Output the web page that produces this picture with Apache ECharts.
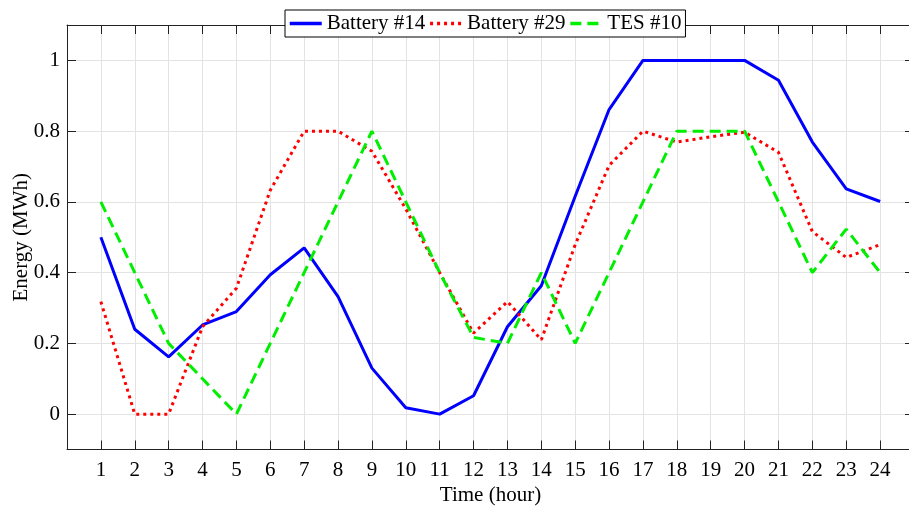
<!DOCTYPE html>
<html>
<head>
<meta charset="utf-8">
<script src="https://cdn.jsdelivr.net/npm/echarts@6/dist/echarts.min.js"></script>
<style>
  html, body { margin: 0; padding: 0; background: #fff; }
  #main { width: 909px; height: 508px; }
</style>
</head>
<body>
<div id="main"></div>
<script>
// hours on the x axis
var hours = [1, 2, 3, 4, 5, 6, 7, 8, 9, 10, 11, 12, 13, 14, 15, 16, 17, 18, 19, 20, 21, 22, 23, 24];
// stored energy (MWh)
var battery14 = [0.50, 0.24, 0.162, 0.252, 0.29, 0.394, 0.47, 0.332, 0.13, 0.018, 0, 0.052,
                 0.247, 0.363, 0.616, 0.861, 1, 1, 1, 1, 0.944, 0.769, 0.637, 0.601];
var battery29 = [0.318, 0, 0, 0.247, 0.356, 0.633, 0.8, 0.8, 0.743, 0.58, 0.40, 0.229,
                 0.318, 0.21, 0.479, 0.703, 0.8, 0.769, 0.784, 0.797, 0.74, 0.516, 0.443, 0.479];
var tes10 = [0.6, 0.4, 0.2, 0.1, 0, 0.2, 0.4, 0.6, 0.8, 0.6, 0.4, 0.217,
             0.2, 0.4, 0.2, 0.4, 0.6, 0.8, 0.8, 0.8, 0.6, 0.4, 0.523, 0.4];
var yTicks = [0, 0.2, 0.4, 0.6, 0.8, 1];

var seriesNames = ['Battery #14', 'Battery #29', 'TES #10'];

function pairs(vals) {
    return hours.map(function (h, i) { return [h, vals[i]]; });
}

var font = 'Liberation Serif';
var axisCol = '#222';
var gridCol = '#e3e3e3';

var myChart = echarts.init(document.getElementById('main'));
myChart.setOption({
    animation: false,
    backgroundColor: '#fff',
    grid: { left: 67, top: 25, width: 847, height: 424.5, containLabel: false, outerBoundsMode: 'none' },
    legend: {
        left: 285,
        top: 10,
        orient: 'horizontal',
        padding: [3, 4, 3, 3],
        itemGap: 3,
        itemWidth: 32,
        itemHeight: 21,
        backgroundColor: '#fff',
        borderColor: '#000',
        borderWidth: 1,
        borderRadius: 0,
        itemStyle: { opacity: 0 },
        lineStyle: { width: 3.5 },
        textStyle: { fontFamily: font, fontSize: 21, color: '#000' },
        data: seriesNames
    },
    xAxis: [
        {
            type: 'value', position: 'bottom',
            min: 0, max: 25, interval: 1,
            name: 'Time (hour)', nameLocation: 'middle', nameGap: 35, nameMoveOverlap: false,
            nameTextStyle: { fontFamily: font, fontSize: 21, color: '#000' },
            axisLine: { show: true, onZero: false, lineStyle: { color: axisCol, width: 1 } },
            axisTick: { show: true, inside: true, length: 9, lineStyle: { color: axisCol } },
            axisLabel: {
                fontFamily: font, fontSize: 21, color: '#000', margin: 10,
                formatter: function (v) { return (v >= 1 && v <= 24) ? String(v) : ''; }
            },
            splitLine: { show: true, lineStyle: { color: gridCol, width: 1 } }
        },
        {
            type: 'value', position: 'top',
            min: 0, max: 25, interval: 1,
            axisLine: { show: true, onZero: false, lineStyle: { color: axisCol, width: 1 } },
            axisTick: { show: true, inside: true, length: 9, lineStyle: { color: axisCol } },
            axisLabel: { show: false },
            splitLine: { show: false }
        }
    ],
    yAxis: [
        {
            type: 'value', position: 'left',
            min: -0.1, max: 1.1,
            name: 'Energy (MWh)', nameLocation: 'middle', nameGap: 35, nameRotate: 90, nameMoveOverlap: false,
            nameTextStyle: { fontFamily: font, fontSize: 21, color: '#000' },
            axisLine: { show: true, onZero: false, lineStyle: { color: axisCol, width: 1 } },
            axisTick: { show: true, inside: true, length: 9, customValues: yTicks, lineStyle: { color: axisCol } },
            axisLabel: { fontFamily: font, fontSize: 21, color: '#000', margin: 7, customValues: yTicks },
            splitLine: { show: true, lineStyle: { color: gridCol, width: 1 } }
        },
        {
            type: 'value', position: 'right',
            min: -0.1, max: 1.1,
            axisLine: { show: true, onZero: false, lineStyle: { color: axisCol, width: 1 } },
            axisTick: { show: true, inside: true, length: 9, customValues: yTicks, lineStyle: { color: axisCol } },
            axisLabel: { show: false },
            splitLine: { show: false }
        }
    ],
    series: [
        {
            name: seriesNames[0], type: 'line', symbol: 'none',
            color: '#0000ff',
            lineStyle: { color: '#0000ff', width: 3 },
            data: pairs(battery14)
        },
        {
            name: seriesNames[1], type: 'line', symbol: 'none',
            color: '#ff0000',
            lineStyle: { color: '#ff0000', width: 3, type: [3, 4] },
            data: pairs(battery29)
        },
        {
            name: seriesNames[2], type: 'line', symbol: 'none',
            color: '#00ee00',
            lineStyle: { color: '#00ee00', width: 3, type: [11, 6] },
            data: pairs(tes10)
        }
    ]
});
</script>
</body>
</html>
